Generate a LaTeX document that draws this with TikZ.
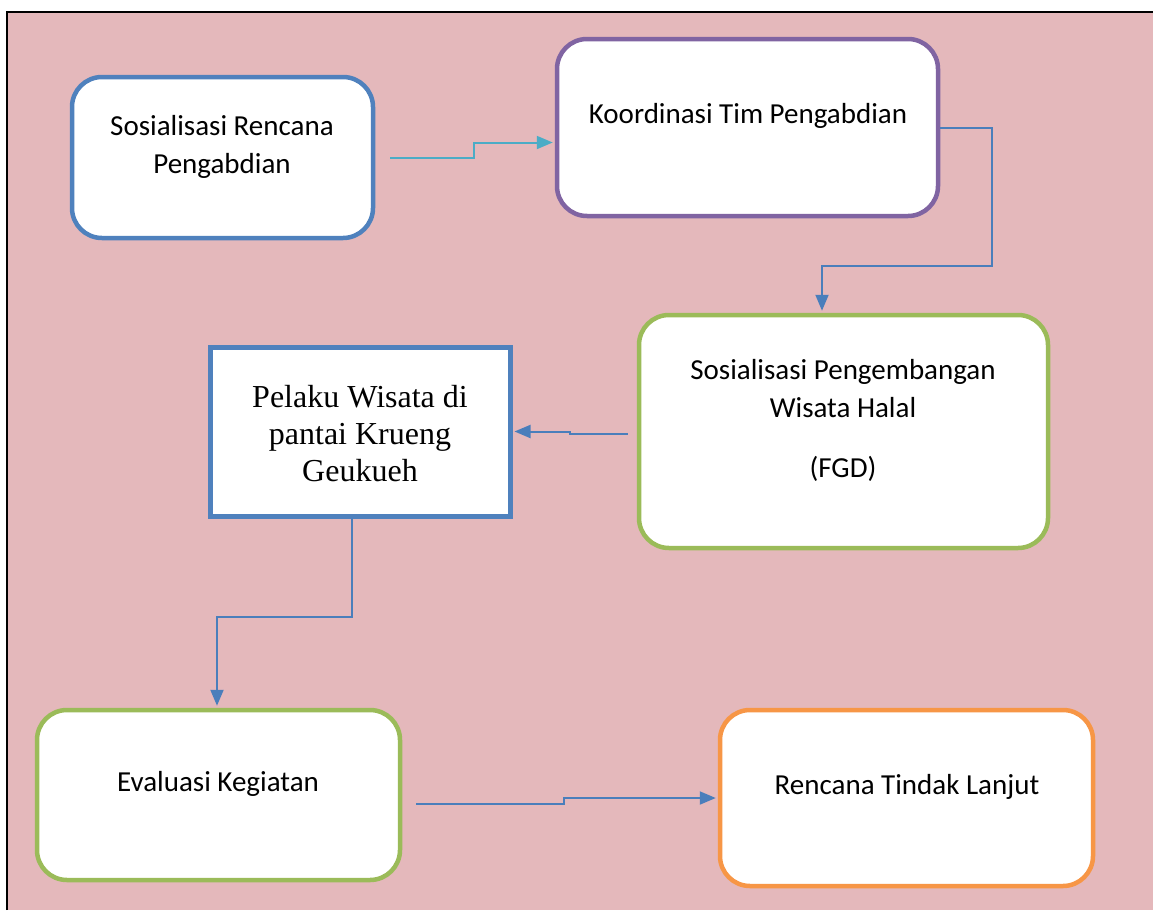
\documentclass[tikz,border=0pt]{standalone}
\usepackage{fontspec}
\setmainfont{Carlito}
\newfontfamily\timesfont{Liberation Serif}
\usetikzlibrary{positioning, arrows.meta, calc}

\definecolor{bgpink}{RGB}{228,184,187}
\definecolor{boxblue}{RGB}{79,129,189}
\definecolor{boxpurple}{RGB}{128,100,162}
\definecolor{boxgreen}{RGB}{155,187,89}
\definecolor{boxorange}{RGB}{247,150,70}
\definecolor{linkteal}{RGB}{75,172,198}
\definecolor{linkblue}{RGB}{74,126,187}

\begin{document}
\begin{tikzpicture}[x=1pt, y=-1pt,
  box/.style={draw, line width=4.5pt, fill=white, rounded corners=30pt, inner sep=0pt},
  sqbox/.style={draw=boxblue, line width=5pt, fill=white, inner sep=0pt},
  txt/.style={align=center, font=\fontsize{29}{38}\selectfont},
  link/.style={line width=2pt, -{Triangle[length=16pt,width=13pt]}, shorten >=2pt}]

    % Background and frame
    \useasboundingbox (0,0) rectangle (1153,910);
    \fill[bgpink] (7,12) rectangle (1153,910);
    \draw[line width=1.5pt] (7,910) -- (7,12) -- (1153,12);

    % Define the boxes
    \node[box, draw=boxblue, minimum width=301pt, minimum height=161pt] (b1) at (222.5,157.5) {};
    \node[box, draw=boxpurple, minimum width=381pt, minimum height=177pt] (b2) at (747.5,127.5) {};
    \node[box, draw=boxgreen, minimum width=409pt, minimum height=233pt] (b3) at (843.5,431.5) {};
    \node[sqbox, minimum width=300pt, minimum height=169pt] (b4) at (360,431.5) {};
    \node[box, draw=boxgreen, minimum width=363pt, minimum height=170pt] (b5) at (218.5,795) {};
    \node[box, draw=boxorange, minimum width=373pt, minimum height=176pt] (b6) at (906.5,798) {};

    % Texts in the boxes
    \node[txt] (t1) at (222,147) {Sosialisasi Rencana\\Pengabdian};
    \node[txt] (t2) at (748,116) {Koordinasi Tim Pengabdian};
    \node[txt] (t3) at (843,420) {Sosialisasi Pengembangan\\Wisata Halal\\[22pt](FGD)};
    \node[txt, font=\timesfont\fontsize{32}{37}\selectfont] (t4) at (360,434) {Pelaku Wisata di\\pantai Krueng\\Geukueh};
    \node[txt] (t5) at (218,784) {Evaluasi Kegiatan};
    \node[txt] (t6) at (907,787) {Rencana Tindak Lanjut};

    % Define the connectors
    \draw[link, linkteal] ([xshift=15pt]b1.east) -- ++(84,0) |- ([yshift=-15pt]b2.west);
    \draw[link, linkblue] (b2.east) -- ++(52,0) -- ++(0,138) -| ([xshift=-21.5pt]b3.north);
    \draw[link, linkblue] ([xshift=-9pt,yshift=-2.5pt]b3.west) -- ++(-58,0) |- (b4.east);
    \draw[link, linkblue] ([xshift=-8pt]b4.south) -- ++(0,98) -| ([xshift=-1.5pt]b5.north);
    \draw[link, linkblue] ([xshift=14pt,yshift=-9pt]b5.east) -- ++(148,0) |- (b6.west);
\end{tikzpicture}
\end{document}
